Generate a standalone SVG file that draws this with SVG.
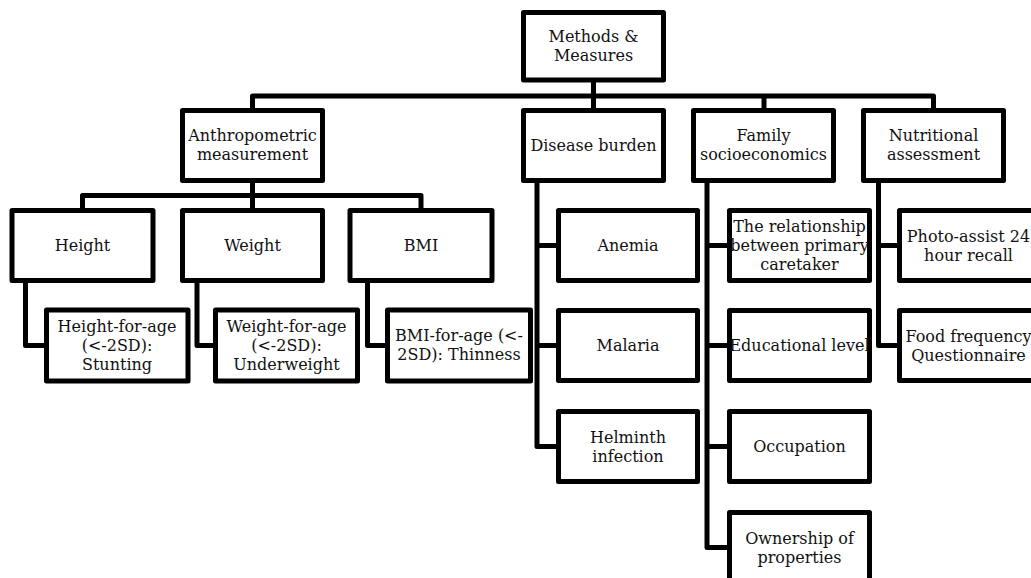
<svg xmlns="http://www.w3.org/2000/svg" width="1031" height="578" viewBox="0 0 1031 578">
<style>
.box{fill:#fff;stroke:#000;stroke-width:5;stroke-linejoin:round}
.c{fill:none;stroke:#000;stroke-width:5;stroke-linejoin:round}
text{font-family:"DejaVu Serif","Liberation Serif",serif;font-size:16px;fill:#111;text-anchor:middle}
</style>
<rect width="1031" height="578" fill="#fff"/>
<g id="connectors">
<path class="c" d="M593.5 78 V96"/>
<path class="c" d="M252.5 112 V96 H933.5 V112"/>
<path class="c" d="M593.5 96 V112"/>
<path class="c" d="M764 96 V112"/>
<path class="c" d="M252.5 180 V195.5"/>
<path class="c" d="M82.5 212 V195.5 H421 V212"/>
<path class="c" d="M252.5 195.5 V212"/>
<path class="c" d="M25.5 280 V345.5 H47"/>
<path class="c" d="M197 280 V345.5 H216"/>
<path class="c" d="M367.5 280 V345.5 H388"/>
<path class="c" d="M537 180 V446.5 H559"/>
<path class="c" d="M537 245.5 H559"/>
<path class="c" d="M537 345.5 H559"/>
<path class="c" d="M707 180 V547.5 H730"/>
<path class="c" d="M707 245.5 H730"/>
<path class="c" d="M707 345.5 H730"/>
<path class="c" d="M707 446.5 H730"/>
<path class="c" d="M878.5 180 V345.5 H900"/>
<path class="c" d="M878.5 245.5 H900"/>
</g>
<g id="root"><rect class="box" x="523.5" y="12.5" width="140" height="67.5"/><text x="593.5" y="42">Methods &amp;</text><text x="593.5" y="61">Measures</text></g>
<g id="anthro"><rect class="box" x="182.5" y="110.5" width="140" height="70"/><text x="252.5" y="141">Anthropometric</text><text x="252.5" y="160">measurement</text></g>
<g id="disease"><rect class="box" x="523.5" y="110.5" width="140" height="70"/><text x="593.5" y="151">Disease burden</text></g>
<g id="family"><rect class="box" x="693.5" y="110.5" width="140" height="70"/><text x="763.5" y="141">Family</text><text x="763.5" y="160">socioeconomics</text></g>
<g id="nutri"><rect class="box" x="863.5" y="110.5" width="140" height="70"/><text x="933.5" y="141">Nutritional</text><text x="933.5" y="160">assessment</text></g>
<g id="height"><rect class="box" x="12" y="210.5" width="141" height="70"/><text x="82.5" y="251">Height</text></g>
<g id="weight"><rect class="box" x="182.5" y="210.5" width="140" height="70"/><text x="252.5" y="251">Weight</text></g>
<g id="bmi"><rect class="box" x="350" y="210.5" width="142" height="70"/><text x="421" y="251">BMI</text></g>
<g id="hfa"><rect class="box" x="46.5" y="310" width="141.5" height="71"/><text x="117" y="331.5">Height-for-age</text><text x="117" y="350.5">(&lt;-2SD):</text><text x="117" y="369.5">Stunting</text></g>
<g id="wfa"><rect class="box" x="215.5" y="310" width="142" height="71"/><text x="286.5" y="331.5">Weight-for-age</text><text x="286.5" y="350.5">(&lt;-2SD):</text><text x="286.5" y="369.5">Underweight</text></g>
<g id="bfa"><rect class="box" x="387.5" y="310" width="143" height="71"/><text x="459" y="341">BMI-for-age (&lt;-</text><text x="459" y="360">2SD): Thinness</text></g>
<g id="anemia"><rect class="box" x="558.5" y="210.5" width="139" height="70"/><text x="628" y="251">Anemia</text></g>
<g id="malaria"><rect class="box" x="558.5" y="310.5" width="139" height="70"/><text x="628" y="351">Malaria</text></g>
<g id="helminth"><rect class="box" x="558.5" y="411.5" width="139" height="70"/><text x="628" y="442.5">Helminth</text><text x="628" y="461.5">infection</text></g>
<g id="relationship"><rect class="box" x="729.5" y="210.5" width="140" height="70"/><text x="799.5" y="232">The relationship</text><text x="799.5" y="251">between primary</text><text x="799.5" y="270">caretaker</text></g>
<g id="education"><rect class="box" x="729.5" y="310.5" width="140" height="70"/><text x="799.5" y="351">Educational level</text></g>
<g id="occupation"><rect class="box" x="729.5" y="411.5" width="140" height="70"/><text x="799.5" y="452">Occupation</text></g>
<g id="ownership"><rect class="box" x="729.5" y="512.5" width="140" height="70"/><text x="799.5" y="543.5">Ownership of</text><text x="799.5" y="562.5">properties</text></g>
<g id="photo"><rect class="box" x="899.5" y="210.5" width="140" height="70"/><text x="968.5" y="241.5">Photo-assist 24</text><text x="968.5" y="260.5">hour recall</text></g>
<g id="ffq"><rect class="box" x="899.5" y="310.5" width="140" height="70"/><text x="968.5" y="341.5">Food frequency</text><text x="968.5" y="360.5">Questionnaire</text></g>
</svg>
